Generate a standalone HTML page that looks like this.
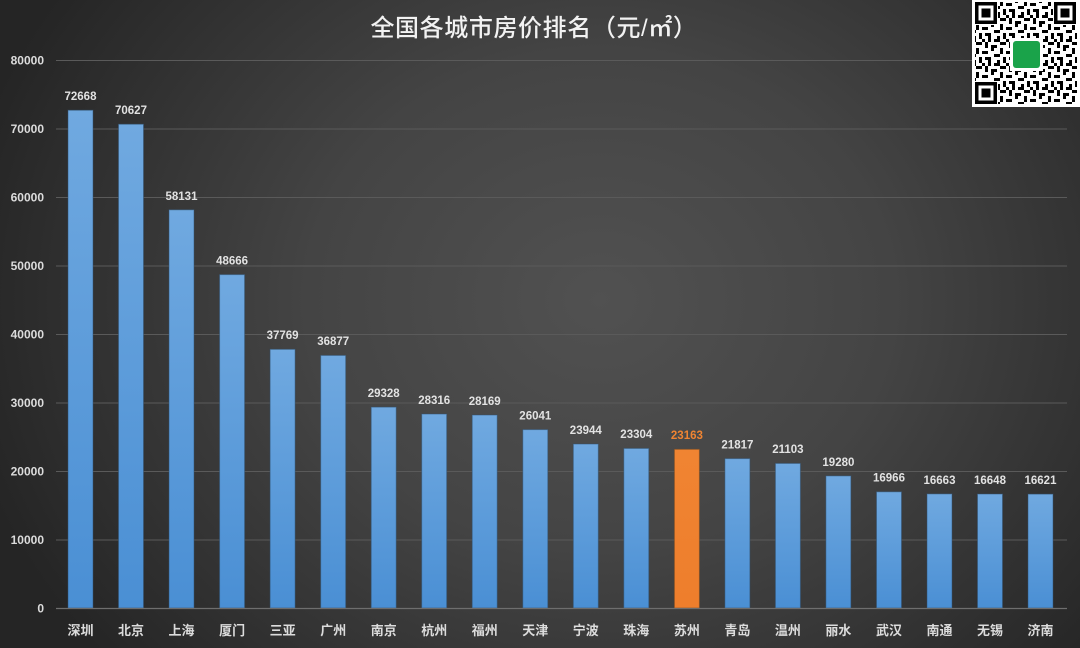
<!DOCTYPE html>
<html><head><meta charset="utf-8"><style>
html,body{margin:0;padding:0;}
body{width:1080px;height:648px;overflow:hidden;background:#333;}
svg{display:block;}
text{font-family:"Liberation Sans","Noto Sans CJK SC",sans-serif;}
</style></head><body>
<svg width="1080" height="648" viewBox="0 0 1080 648" xmlns="http://www.w3.org/2000/svg">
<defs>
<radialGradient id="bg" cx="600" cy="300" r="650" gradientUnits="userSpaceOnUse" gradientTransform="translate(600 300) scale(1 0.85) translate(-600 -300)">
<stop offset="0" stop-color="#515151"/>
<stop offset="0.45" stop-color="#444444"/>
<stop offset="1" stop-color="#252525"/>
</radialGradient>
<linearGradient id="blue" x1="0" y1="0" x2="0" y2="1">
<stop offset="0" stop-color="#70a9e0"/>
<stop offset="1" stop-color="#4a8fd4"/>
</linearGradient>
<linearGradient id="orange" x1="0" y1="0" x2="0" y2="1">
<stop offset="0" stop-color="#f08432"/>
<stop offset="1" stop-color="#ee7e2c"/>
</linearGradient>
<pattern id="qr" x="976" y="0" width="24" height="24" patternUnits="userSpaceOnUse">
<rect width="24" height="24" fill="#fff"/>
<rect x="0" y="0" width="3" height="6" fill="#000"/>
<rect x="6" y="3" width="6" height="3" fill="#000"/>
<rect x="15" y="0" width="3" height="3" fill="#000"/>
<rect x="18" y="6" width="6" height="3" fill="#000"/>
<rect x="3" y="9" width="3" height="6" fill="#000"/>
<rect x="9" y="9" width="6" height="3" fill="#000"/>
<rect x="12" y="12" width="3" height="6" fill="#000"/>
<rect x="21" y="12" width="3" height="6" fill="#000"/>
<rect x="0" y="18" width="6" height="3" fill="#000"/>
<rect x="9" y="18" width="3" height="6" fill="#000"/>
<rect x="15" y="21" width="6" height="3" fill="#000"/>
<rect x="18" y="15" width="3" height="3" fill="#000"/>
<rect x="6" y="15" width="3" height="3" fill="#000"/>
</pattern>
</defs>
<rect width="1080" height="648" fill="url(#bg)"/>

<!-- gridlines -->
<g stroke="#5a5a5a" stroke-width="1">
<line x1="56" y1="60.5" x2="1067" y2="60.5"/>
<line x1="56" y1="129" x2="1067" y2="129"/>
<line x1="56" y1="197.5" x2="1067" y2="197.5"/>
<line x1="56" y1="266" x2="1067" y2="266"/>
<line x1="56" y1="334.5" x2="1067" y2="334.5"/>
<line x1="56" y1="403" x2="1067" y2="403"/>
<line x1="56" y1="471.5" x2="1067" y2="471.5"/>
<line x1="56" y1="540" x2="1067" y2="540"/>
</g>

<!-- y labels -->
<g fill="#dcdcdc" font-size="12" font-weight="bold" text-anchor="end">
<text x="44" y="64.5">80000</text>
<text x="44" y="133">70000</text>
<text x="44" y="201.5">60000</text>
<text x="44" y="270">50000</text>
<text x="44" y="338.5">40000</text>
<text x="44" y="407">30000</text>
<text x="44" y="475.5">20000</text>
<text x="44" y="544">10000</text>
<text x="44" y="612.5">0</text>
</g>

<!-- bars -->
<g stroke="#2f4f70" stroke-width="1" stroke-opacity="0.5">
<rect x="68" y="110.2" width="25" height="497.8" fill="url(#blue)"/>
<rect x="118.5" y="124.2" width="25" height="483.8" fill="url(#blue)"/>
<rect x="169" y="209.8" width="25" height="398.2" fill="url(#blue)"/>
<rect x="219.6" y="274.6" width="25" height="333.4" fill="url(#blue)"/>
<rect x="270.1" y="349.3" width="25" height="258.7" fill="url(#blue)"/>
<rect x="320.7" y="355.4" width="25" height="252.6" fill="url(#blue)"/>
<rect x="371.2" y="407.1" width="25" height="200.9" fill="url(#blue)"/>
<rect x="421.7" y="414.0" width="25" height="194.0" fill="url(#blue)"/>
<rect x="472.2" y="415.0" width="25" height="193.0" fill="url(#blue)"/>
<rect x="522.8" y="429.6" width="25" height="178.4" fill="url(#blue)"/>
<rect x="573.3" y="444.0" width="25" height="164.0" fill="url(#blue)"/>
<rect x="623.8" y="448.4" width="25" height="159.6" fill="url(#blue)"/>
<rect x="674.4" y="449.3" width="25" height="158.7" fill="url(#orange)" stroke="#7a4a20"/>
<rect x="724.9" y="458.6" width="25" height="149.4" fill="url(#blue)"/>
<rect x="775.4" y="463.4" width="25" height="144.6" fill="url(#blue)"/>
<rect x="825.9" y="475.9" width="25" height="132.1" fill="url(#blue)"/>
<rect x="876.5" y="491.8" width="25" height="116.2" fill="url(#blue)"/>
<rect x="927" y="493.9" width="25" height="114.1" fill="url(#blue)"/>
<rect x="977.5" y="494.0" width="25" height="114.0" fill="url(#blue)"/>
<rect x="1028" y="494.1" width="25" height="113.9" fill="url(#blue)"/>
</g>

<!-- axis line -->
<line x1="56" y1="608.5" x2="1067" y2="608.5" stroke="#6e6e6e" stroke-width="1.2"/>

<!-- value labels -->
<g fill="#e2e2e2" font-size="11.5" font-weight="bold" text-anchor="middle">
<text x="80.5" y="100">72668</text>
<text x="131" y="114">70627</text>
<text x="181.5" y="200">58131</text>
<text x="232.1" y="264.5">48666</text>
<text x="282.6" y="339">37769</text>
<text x="333.2" y="345">36877</text>
<text x="383.7" y="397">29328</text>
<text x="434.2" y="404">28316</text>
<text x="484.7" y="405">28169</text>
<text x="535.3" y="419.5">26041</text>
<text x="585.8" y="434">23944</text>
<text x="636.3" y="438">23304</text>
<text x="686.9" y="439" fill="#f08432">23163</text>
<text x="737.4" y="448.5">21817</text>
<text x="787.9" y="453">21103</text>
<text x="838.4" y="466">19280</text>
<text x="889" y="481.5">16966</text>
<text x="939.5" y="484">16663</text>
<text x="990" y="484">16648</text>
<text x="1040.5" y="484">16621</text>
</g>

<!-- x labels -->
<g fill="#dcdcdc" font-size="13" font-weight="bold" text-anchor="middle">
<text x="80.5" y="635">深圳</text>
<text x="131" y="635">北京</text>
<text x="181.5" y="635">上海</text>
<text x="232.1" y="635">厦门</text>
<text x="282.6" y="635">三亚</text>
<text x="333.2" y="635">广州</text>
<text x="383.7" y="635">南京</text>
<text x="434.2" y="635">杭州</text>
<text x="484.7" y="635">福州</text>
<text x="535.3" y="635">天津</text>
<text x="585.8" y="635">宁波</text>
<text x="636.3" y="635">珠海</text>
<text x="686.9" y="635">苏州</text>
<text x="737.4" y="635">青岛</text>
<text x="787.9" y="635">温州</text>
<text x="838.4" y="635">丽水</text>
<text x="889" y="635">武汉</text>
<text x="939.5" y="635">南通</text>
<text x="990" y="635">无锡</text>
<text x="1040.5" y="635">济南</text>
</g>

<!-- title -->
<text x="534" y="36" fill="#f2f2f2" font-size="24" font-weight="500" letter-spacing="0.6" text-anchor="middle">全国各城市房价排名（元/㎡）</text>

<!-- QR code -->
<rect x="972" y="0" width="108" height="107" fill="#fff"/>
<rect x="975" y="2" width="102" height="102" fill="url(#qr)"/>
<g>
<rect x="974" y="1" width="24" height="24" fill="#fff"/>
<rect x="975" y="2" width="22" height="22" fill="#000"/>
<rect x="978.5" y="5.5" width="15" height="15" fill="#fff"/>
<rect x="981.5" y="8.5" width="9" height="9" fill="#000"/>
<rect x="1053" y="1" width="25" height="24" fill="#fff"/>
<rect x="1054" y="2" width="22" height="22" fill="#000"/>
<rect x="1057.5" y="5.5" width="15" height="15" fill="#fff"/>
<rect x="1060.5" y="8.5" width="9" height="9" fill="#000"/>
<rect x="974" y="81" width="24" height="25" fill="#fff"/>
<rect x="975" y="82" width="22" height="22" fill="#000"/>
<rect x="978.5" y="85.5" width="15" height="15" fill="#fff"/>
<rect x="981.5" y="88.5" width="9" height="9" fill="#000"/>
<rect x="1010" y="38" width="33" height="33" fill="#fff"/>
<rect x="1013" y="41" width="27" height="27" rx="3" fill="#1aa34a"/>
</g>
</svg>
</body></html>
